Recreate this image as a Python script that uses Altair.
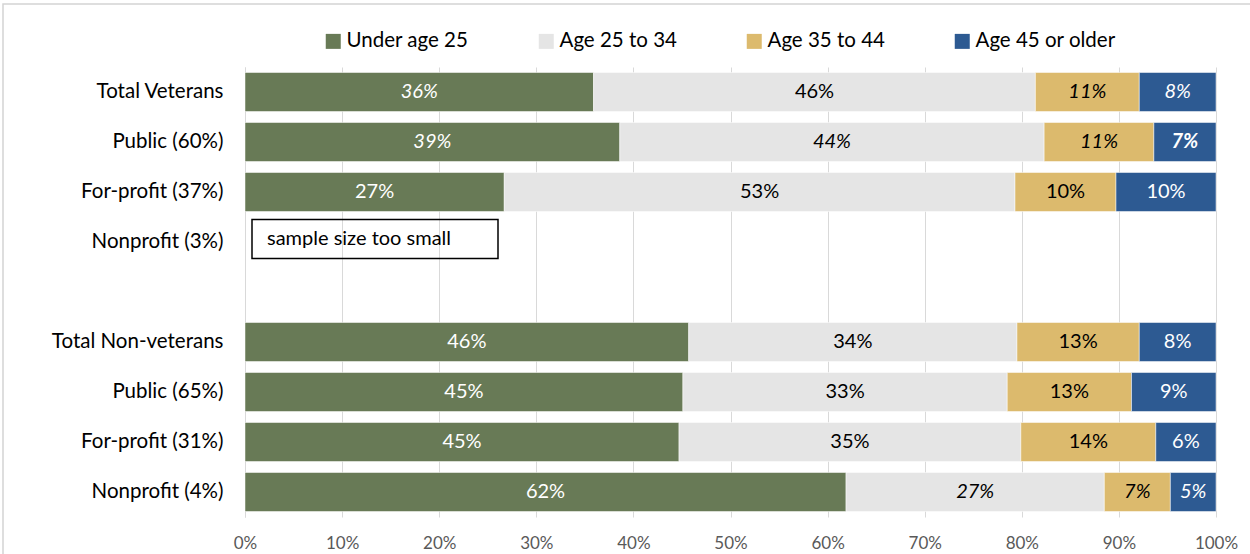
import altair as alt
import pandas as pd

categories = ["Total Veterans", "Public (60%)", "For-profit (37%)", "Nonprofit (3%)", " ",
              "Total Non-veterans", "Public (65%)", "For-profit (31%)", "Nonprofit (4%)"]
series = ["Under age 25", "Age 25 to 34", "Age 35 to 44", "Age 45 or older"]
colors = ["#687A56", "#E5E5E5", "#DCBA6D", "#2D5A92"]

# rows with data (Nonprofit (3%) has no data: sample too small)
bar_rows = ["Total Veterans", "Public (60%)", "For-profit (37%)",
            "Total Non-veterans", "Public (65%)", "For-profit (31%)", "Nonprofit (4%)"]
under25 = [35.9, 38.6, 26.7, 45.7, 45.1, 44.7, 61.9]
age25_34 = [45.5, 43.7, 52.6, 33.8, 33.4, 35.2, 26.6]
age35_44 = [10.7, 11.3, 10.4, 12.6, 12.8, 13.9, 6.8]
age45plus = [7.9, 6.4, 10.3, 7.9, 8.7, 6.2, 4.7]

lab_under25 = ["36%", "39%", "27%", "46%", "45%", "45%", "62%"]
lab_25_34 = ["46%", "44%", "53%", "34%", "33%", "35%", "27%"]
lab_35_44 = ["11%", "11%", "10%", "13%", "13%", "14%", "7%"]
lab_45plus = ["8%", "7%", "10%", "8%", "9%", "6%", "5%"]

# labels shown in italic / bold italic in the original
italic_cells = [("Total Veterans", "Under age 25"), ("Total Veterans", "Age 35 to 44"),
                ("Total Veterans", "Age 45 or older"), ("Public (60%)", "Under age 25"),
                ("Public (60%)", "Age 25 to 34"), ("Public (60%)", "Age 35 to 44"),
                ("Nonprofit (4%)", "Age 25 to 34"), ("Nonprofit (4%)", "Age 35 to 44"),
                ("Nonprofit (4%)", "Age 45 or older")]
bold_italic_cells = [("Public (60%)", "Age 45 or older")]

note_row = "Nonprofit (3%)"
note_text = "sample size too small"

FONT = "Lato"

rows = []
for s_i, (s, vals, labs) in enumerate(zip(series,
                                          [under25, age25_34, age35_44, age45plus],
                                          [lab_under25, lab_25_34, lab_35_44, lab_45plus])):
    for c, v, l in zip(bar_rows, vals, labs):
        emph = "n"
        if (c, s) in italic_cells:
            emph = "i"
        if (c, s) in bold_italic_cells:
            emph = "bi"
        rows.append({"category": c, "series": s, "value": v, "label": l,
                     "order": s_i, "emph": emph})
df = pd.DataFrame(rows)

yscale = alt.Scale(domain=categories, paddingInner=0.22, paddingOuter=0.11)
xscale = alt.Scale(domain=[0, 1], nice=False)

base = alt.Chart(df).transform_stack(
    stack="value", groupby=["category"], as_=["x0", "x1"],
    sort=[alt.SortField("order", order="ascending")], offset="normalize"
).transform_calculate(mid="(datum.x0 + datum.x1) / 2")

bars = base.mark_bar(stroke="white", strokeWidth=0.5).encode(
    y=alt.Y("category:N", scale=yscale, title=None,
            axis=alt.Axis(labelFont=FONT, labelFontSize=20.5, labelColor="#000000",
                          labelPadding=22, ticks=False, domain=True,
                          domainColor="#D9D9D9", domainWidth=1, grid=False,
                          labelLimit=300)),
    x=alt.X("x0:Q", scale=xscale, title=None,
            axis=alt.Axis(format=".0%", values=[i / 10 for i in range(11)],
                          labelFont=FONT, labelFontSize=17, labelColor="#595959",
                          labelPadding=18, ticks=False, domain=False, grid=True,
                          gridColor="#D9D9D9", gridWidth=1, labelFlush=False,
                          labelOverlap=False)),
    x2="x1:Q",
    color=alt.Color("series:N", scale=alt.Scale(domain=series, range=colors),
                    legend=alt.Legend(orient="none", legendX=78, legendY=-36,
                                      direction="horizontal", title=None,
                                      symbolType="square", symbolSize=225,
                                      symbolStrokeWidth=0, labelFont=FONT,
                                      labelFontSize=20.5, labelColor="#000000",
                                      columnPadding=67, labelOffset=3,
                                      labelLimit=300)),
)

text_color = alt.condition(
    alt.FieldOneOfPredicate(field="series", oneOf=["Under age 25", "Age 45 or older"]),
    alt.value("white"), alt.value("black"))

def text_layer(emph, style, weight):
    return base.transform_filter(alt.datum.emph == emph).mark_text(
        font=FONT, fontSize=20, fontStyle=style, fontWeight=weight,
        baseline="middle", align="center"
    ).encode(
        y=alt.Y("category:N", scale=yscale),
        x=alt.X("mid:Q", scale=xscale),
        text="label:N",
        color=text_color,
    )

t_norm = text_layer("n", "normal", "normal")
t_ital = text_layer("i", "italic", "normal")
t_bold = text_layer("bi", "italic", "bold")

note_df = pd.DataFrame({"category": [note_row], "note": [note_text]})
note_box = alt.Chart(note_df).mark_rect(
    fill="transparent", stroke="black", strokeWidth=1.5, yOffset=-3, y2Offset=-4
).encode(
    y=alt.Y("category:N", scale=yscale),
    x=alt.value(7), x2=alt.value(253),
)
note_txt = alt.Chart(note_df).mark_text(
    font=FONT, fontSize=20, align="left", baseline="middle", color="black", dy=-3
).encode(
    y=alt.Y("category:N", scale=yscale),
    x=alt.value(22),
    text="note:N",
)

frame = alt.Chart(pd.DataFrame({"a": [0]})).mark_rect(
    fill="transparent", stroke="#D4D4D4", strokeWidth=1.5
).encode(
    x=alt.value(-242), x2=alt.value(1200), y=alt.value(-63), y2=alt.value(600)
)

chart = alt.layer(frame, bars, t_norm, t_ital, t_bold, note_box, note_txt).properties(
    width=971, height=450,
    autosize=alt.AutoSizeParams(type="none"),
    padding={"left": 245, "top": 67, "right": 34, "bottom": 37},
    background="white",
).configure_view(stroke=None)

chart.save("out.html", embed_options={"renderer": "svg", "actions": False})
